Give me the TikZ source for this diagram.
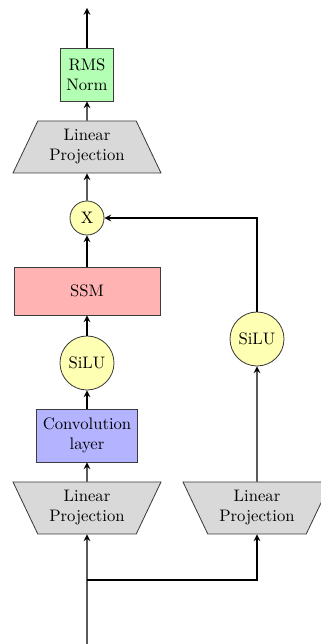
\documentclass[tikz,border=0pt]{standalone}
\usepackage{tikz}
\usetikzlibrary{shapes.geometric}
\definecolor{normgreen}{RGB}{179,255,179}
\definecolor{ssmred}{RGB}{255,179,179}
\definecolor{convblue}{RGB}{179,179,255}
\definecolor{siluyellow}{RGB}{255,255,179}
\definecolor{projgray}{RGB}{217,217,217}
\definecolor{rand}{RGB}{60,60,60}

\begin{document}
\begin{tikzpicture}[x=0.6pt, y=0.6pt, >=stealth, font=\normalsize,
	box/.style={draw=rand, line width=0.5pt, align=center, inner sep=1pt},
	proj/.style={box, trapezium, trapezium left angle=57, trapezium right angle=57,
		trapezium stretches body=true, minimum width=88.8pt, minimum height=31.2pt, fill=projgray},
	kreis/.style={box, circle, fill=siluyellow},
	pfeil/.style={->, thick}]
	%Bildbereich
	\useasboundingbox (0,0) rectangle (321,644);
	% Ein- und Ausgang
	\coordinate (eingang) at (87,0);
	\coordinate (abzweig) at (87,64);
	\coordinate (ausgang) at (87,636);
	% linker Zweig
	\node[proj, shape border rotate=180] (linL) at (87,136) {Linear\\Projection};
	\node[box, fill=convblue, minimum width=60.6pt, minimum height=31.8pt] (conv) at (87,208.5) {Convolution\\layer};
	\node[kreis, minimum size=32.4pt] (siluL) at (87,281) {SiLU};
	\node[box, fill=ssmred, minimum width=87.6pt, minimum height=28.8pt] (ssm) at (87,353) {SSM};
	\node[kreis, minimum size=20.4pt] (mal) at (87,426) {X};
	\node[proj] (linO) at (87,497) {Linear\\Projection};
	\node[box, fill=normgreen, minimum width=31.8pt, minimum height=31.8pt] (rms) at (87,569.5) {RMS\\Norm};
	% rechter Zweig
	\node[proj, shape border rotate=180] (linR) at (257,136) {Linear\\Projection};
	\node[kreis, minimum size=32.4pt] (siluR) at (257,305) {SiLU};
	%Pfeile
	\draw[pfeil] (eingang) -- (linL);
	\draw[pfeil] (abzweig) -| (linR);
	\draw[pfeil] (linL) -- (conv);
	\draw[pfeil] (conv) -- (siluL);
	\draw[pfeil] (siluL) -- (ssm);
	\draw[pfeil] (ssm) -- (mal);
	\draw[pfeil] (mal) -- (linO);
	\draw[pfeil] (linO) -- (rms);
	\draw[pfeil] (rms) -- (ausgang);
	\draw[pfeil] (linR) -- (siluR);
	\draw[pfeil] (siluR) |- (mal);
\end{tikzpicture}
\end{document}
